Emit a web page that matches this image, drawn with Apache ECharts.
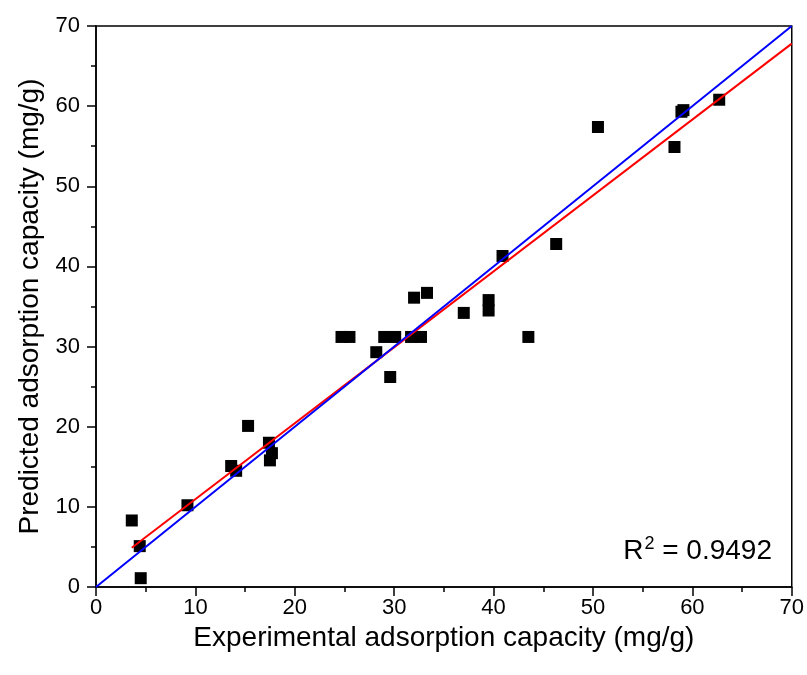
<!DOCTYPE html>
<html>
<head>
<meta charset="utf-8">
<script src="https://cdn.jsdelivr.net/npm/echarts@6/dist/echarts.min.js"></script>
<style>
html,body{margin:0;padding:0;background:#fff;}
#chart{width:807px;height:675px;}
</style>
</head>
<body>
<div id="chart"></div>
<script>
// Experimental vs predicted adsorption capacity (mg/g)
var experimental = [3.6, 4.4, 4.5, 9.2, 13.6, 14.1, 15.3, 17.4, 17.7, 17.5,
  24.7, 25.5, 28.2, 29.0, 30.1, 29.6, 31.7, 32.7, 32.0, 33.3,
  37.0, 39.5, 39.5, 43.5, 40.9, 46.3, 50.5, 58.2, 58.9, 59.1, 62.7];
var predicted = [8.3, 5.1, 1.1, 10.2, 15.1, 14.5, 20.1, 18.0, 16.7, 15.8,
  31.2, 31.2, 29.3, 31.2, 31.2, 26.2, 31.2, 31.2, 36.1, 36.7,
  34.2, 35.8, 34.5, 31.2, 41.3, 42.8, 57.4, 54.9, 59.3, 59.5, 60.8];
// Line endpoints
var idealX = [0, 70];
var idealY = [0, 70];
var fitX = [3.6, 70];
var fitY = [4.9, 67.8];
var xTicks = [0, 10, 20, 30, 40, 50, 60, 70];
var yTicks = [0, 10, 20, 30, 40, 50, 60, 70];
var r2Label = '0.9492';

var points = experimental.map(function (x, i) { return [x, predicted[i]]; });
var ideal = idealX.map(function (x, i) { return [x, idealY[i]]; });
var fit = fitX.map(function (x, i) { return [x, fitY[i]]; });

var chart = echarts.init(document.getElementById('chart'), null, {renderer: 'canvas'});
var font = 'Liberation Sans, Arial, sans-serif';
var axisCommon = {
  type: 'value',
  min: xTicks[0],
  max: xTicks[xTicks.length - 1],
  interval: 10,
  axisLine: {show: true, onZero: false, lineStyle: {color: '#000', width: 1.5}},
  axisTick: {show: true, length: 9, lineStyle: {color: '#000', width: 1.5}},
  minorTick: {show: true, splitNumber: 2, length: 5, lineStyle: {color: '#000', width: 1.5}},
  splitLine: {show: false},
  axisLabel: {color: '#000', fontSize: 22, fontFamily: font},
  nameTextStyle: {color: '#000', fontSize: 28, fontFamily: font}
};
chart.setOption({
  animation: false,
  backgroundColor: '#fff',
  grid: {left: 96, right: 15, top: 26, bottom: 88, show: true, borderColor: '#000', borderWidth: 1.5, backgroundColor: 'transparent'},
  xAxis: Object.assign({}, axisCommon, {
    name: 'Experimental adsorption capacity (mg/g)',
    nameLocation: 'middle', nameGap: 32,
    axisLabel: Object.assign({}, axisCommon.axisLabel, {margin: 10})
  }),
  yAxis: Object.assign({}, axisCommon, {
    min: yTicks[0], max: yTicks[yTicks.length - 1],
    name: 'Predicted adsorption capacity (mg/g)',
    nameLocation: 'middle', nameGap: 52,
    axisLabel: Object.assign({}, axisCommon.axisLabel, {margin: 16})
  }),
  series: [
    {
      type: 'scatter', data: points, symbol: 'rect', symbolSize: 12,
      itemStyle: {color: '#000', opacity: 1}, z: 2
    },
    {
      type: 'line', data: fit, showSymbol: false, symbol: 'none',
      lineStyle: {color: '#ff0000', width: 2}, z: 3
    },
    {
      type: 'line', data: ideal, showSymbol: false, symbol: 'none',
      lineStyle: {color: '#0000ff', width: 2}, z: 4
    }
  ],
  graphic: [{
    type: 'text', right: 35, top: 535, z: 10,
    style: {
      text: '{a|R}{b|2}{a| = ' + r2Label + '}',
      rich: {
        a: {fontSize: 28, fontFamily: font, fill: '#000', lineHeight: 32},
        b: {fontSize: 18, fontFamily: font, fill: '#000', verticalAlign: 'top', lineHeight: 12, padding: [0, 0, 0, 1]}
      }
    }
  }]
});
</script>
</body>
</html>
